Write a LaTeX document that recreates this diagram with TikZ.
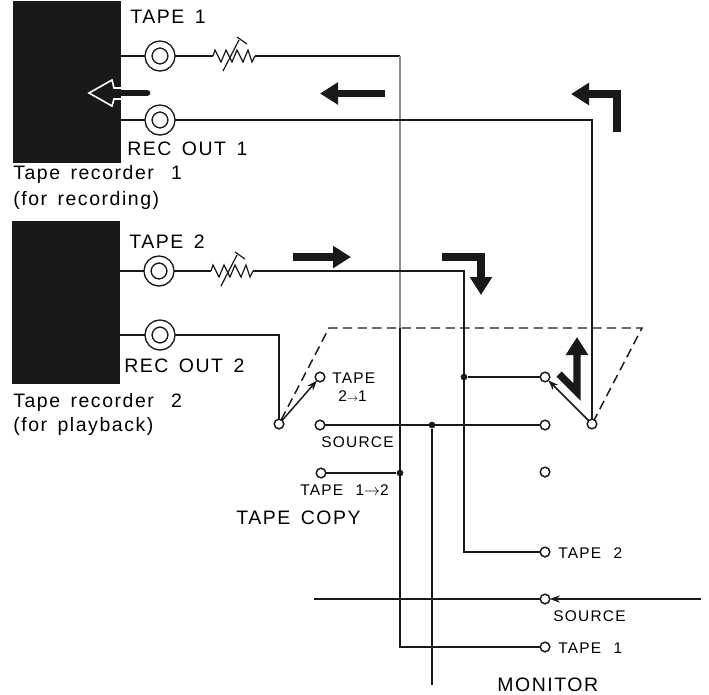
\documentclass[tikz,border=0pt]{standalone}
\usepackage{fontspec}
\setmainfont[LetterSpace=8,WordSpace=1.5]{Liberation Sans}
\usepackage{tikz}
\usetikzlibrary{arrows,arrows.meta,calc}
\definecolor{ink}{gray}{0.1}
\tikzset{every picture/.style={>=stealth},
  wire/.style={color=ink,line width=1.1pt},
  bigtext/.style={anchor=base west,inner sep=0pt,font=\fontsize{14.6}{16}\selectfont},
  smalltext/.style={anchor=base west,inner sep=0pt,font=\fontsize{11.6}{12}\selectfont},
  recorder/.style={fill=ink,inner sep=0pt,minimum width=81pt,minimum height=122pt},
  jack/.style={circle,draw=ink,line width=1.1pt,double=white,double distance=4.1pt,inner sep=0pt,minimum size=17.2pt,outer sep=2.6pt},
  term/.style={circle,draw=ink,fill=white,line width=1.1pt,inner sep=0pt,minimum size=7.2pt,outer sep=0pt},
  dot/.style={circle,fill=ink,inner sep=0pt,minimum size=5pt},
  tip/.style={-{Stealth[length=7.5pt,width=5.5pt]}},
  flow/.style={color=ink,line width=5.4pt,-{Triangle[length=13.5pt,width=16pt]}}}
\newcommand{\trimmer}[2]{
  \draw [wire,line width=0.9pt] (#1,#2) -- ++(2,-6) -- ++(6,12) -- ++(5,-12) -- ++(6,12) -- ++(5,-12)
    -- ++(6,12) -- ++(5,-12) -- ++(4,12) -- ++(3,-6);
  \draw [wire,line width=0.9pt] ($(#1,#2)+(10,15)$) -- ++(16,-31);
  \draw [wire,line width=0.9pt] ($(#1,#2)+(24,-19)$) -- ++(10,7);}

\begin{document}
\begin{tikzpicture}[x=0.75pt,y=-0.75pt]
  \useasboundingbox (0,0) rectangle (709,694);
  % recorders and jacks
  \node (box1) [recorder] at (67,82) {};
  \node (box2) [recorder] at (65.5,302.5) {};
  \node (j1) [jack] at (160,56) {};
  \node (j2) [jack] at (160,120) {};
  \node (j3) [jack] at (159,271) {};
  \node (j4) [jack] at (160,335) {};
  \coordinate (r1a) at (213,56);
  \coordinate (r1b) at (255,56);
  \coordinate (r2a) at (211,271);
  \coordinate (r2b) at (253,271);
  \coordinate (c1) at (400,56);
  \coordinate (c2) at (400,328);
  \coordinate (c3) at (400,647);
  \coordinate (c4) at (464,552);
  \coordinate (c5) at (432,685);
  \coordinate (srcL) at (314,599);
  \coordinate (srcR) at (701,599);
  \coordinate (dashL) at (329,328);
  \coordinate (dashR) at (642,328);
  % switch contacts
  \node (swL) [term] at (279,424) {};
  \node (swR) [term] at (592,424) {};
  \node (t21) [term] at (320,377) {};
  \node (src) [term] at (320,425) {};
  \node (t12) [term] at (321,473) {};
  \node (m21) [term] at (545,377) {};
  \node (m0) [term] at (545,425) {};
  \node (m1) [term] at (545,472) {};
  \node (mt2) [term] at (545,552) {};
  \node (ms) [term] at (545,599) {};
  \node (mt1) [term] at (545,647) {};
  \node (d1) [dot] at (464,377) {};
  \node (d2) [dot] at (432,425) {};
  \node (d3) [dot] at (400,473) {};
  % wires
  \draw [wire] (j1) -- (box1.east |- j1);
  \draw [wire] (j2) -- (box1.east |- j2);
  \draw [wire] (j3) -- (box2.east |- j3);
  \draw [wire] (j4) -- (box2.east |- j4);
  \draw [wire] (j1) -- (r1a);
  \draw [wire] (j3) -- (r2a);
  \trimmer{213}{56}
  \trimmer{211}{271}
  \draw [wire] (r1b) -- (c1);
  \draw [wire,color=black!45] (c1) -- (c2);
  \draw [wire] (c2) -- (c3) -- (mt1);
  \draw [wire] (j2) -| (swR);
  \draw [wire] (j4) -| (swL);
  \draw [wire] (r2b) -| (c4) -- (mt2);
  \draw [wire] (d1) -- (m21);
  \draw [wire] (src) -- (m0);
  \draw [wire] (d2) -- (c5);
  \draw [wire] (t12) -- (d3);
  \draw [wire] (srcL) -- (ms);
  \draw [wire,tip] (srcR) -- (ms);
  \draw [wire,tip] (swL) -- (t21);
  \draw [wire,tip] (swR) -- (m21);
  \draw [wire,dash pattern=on 7pt off 4pt] (swL) -- (dashL) -- (dashR) -- (swR);
  % signal arrows
  \draw [color=ink,line width=5pt,line cap=round] (147,93) -- (112,93);
  \draw [white,line width=1.2pt] (121,88) -- (114,88) -- (112,80) -- (89,93) -- (112,106) -- (114,99) -- (121,99);
  \draw [flow] (385,93.5) -- (320,93.5);
  \draw [flow] (617,132) -- (617,94) -- (571,94);
  \draw [flow] (293,257) -- (351,257);
  \draw [flow] (442,257) -- (481,257) -- (481,295);
  \draw [flow] (559,374) -- (577,392) -- (577,337);
  % labels
  \node (l1) [bigtext] at (130,23) {TAPE 1};
  \node (l2) [bigtext] at (127,155) {REC OUT 1};
  \node (l3) [bigtext] at (13,179) {Tape recorder\hspace{5pt} 1};
  \node (l4) [bigtext] at (13,205) {(for recording)};
  \node (l5) [bigtext] at (129,248) {TAPE 2};
  \node (l6) [bigtext] at (124,372) {REC OUT 2};
  \node (l7) [bigtext] at (13,407) {Tape recorder\hspace{5pt} 2};
  \node (l8) [bigtext] at (13,431) {(for playback)};
  \node (l9) [smalltext] at (332,383) {TAPE};
  \node (l10) [smalltext] at (338,401) {2{\footnotesize$\to$}1};
  \node (l11) [smalltext] at (321,447) {SOURCE};
  \node (l12) [smalltext] at (300,495) {TAPE\hspace{3pt} 1$\to$2};
  \node (l13) [bigtext] at (236,524) {TAPE COPY};
  \node (l14) [smalltext] at (558,558) {TAPE\hspace{3pt} 2};
  \node (l15) [smalltext] at (553,621) {SOURCE};
  \node (l16) [smalltext] at (558,653) {TAPE\hspace{3pt} 1};
  \node (l17) [bigtext] at (497,691) {MONITOR};
\end{tikzpicture}
\end{document}
